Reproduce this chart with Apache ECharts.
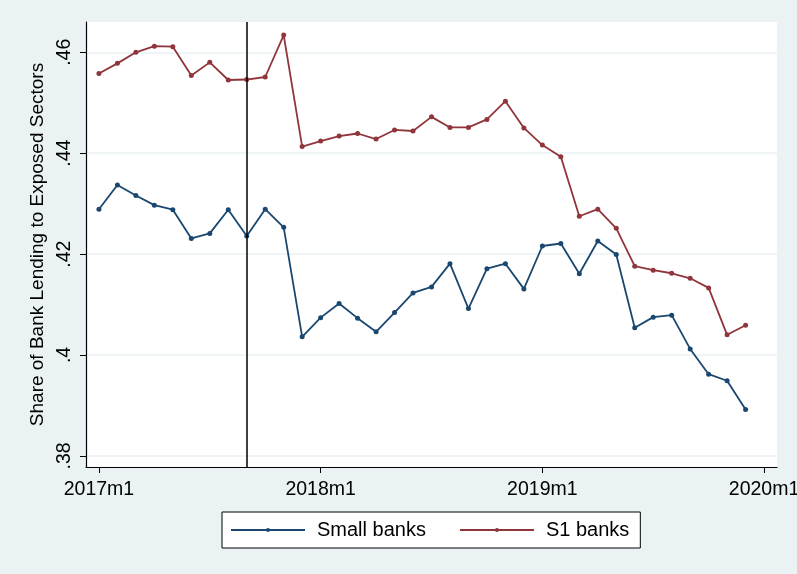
<!DOCTYPE html>
<html>
<head>
<meta charset="utf-8">
<script src="https://cdn.jsdelivr.net/npm/echarts@6/dist/echarts.min.js"></script>
<style>
  html, body { margin: 0; padding: 0; background: #eaf2f3; }
  #chart { width: 797px; height: 574px; }
</style>
</head>
<body>
<div id="chart"></div>
<script>
// Monthly observations, 2017m1 to 2019m12
const months = [
  '2017m1','2017m2','2017m3','2017m4','2017m5','2017m6','2017m7','2017m8','2017m9','2017m10','2017m11','2017m12',
  '2018m1','2018m2','2018m3','2018m4','2018m5','2018m6','2018m7','2018m8','2018m9','2018m10','2018m11','2018m12',
  '2019m1','2019m2','2019m3','2019m4','2019m5','2019m6','2019m7','2019m8','2019m9','2019m10','2019m11','2019m12'
];

// Share of bank lending to exposed sectors
const smallBanks = [
  0.4289, 0.4337, 0.4316, 0.4297, 0.4288, 0.4231, 0.4241, 0.4288, 0.4236, 0.4289, 0.4253, 0.4036,
  0.4074, 0.4102, 0.4073, 0.4046, 0.4084, 0.4123, 0.4135, 0.4181, 0.4092, 0.4171, 0.4181, 0.4131,
  0.4216, 0.4221, 0.4161, 0.4226, 0.4199, 0.4054, 0.4075, 0.4079, 0.4012, 0.3962, 0.3949, 0.3892
];
const s1Banks = [
  0.4558, 0.4578, 0.4600, 0.4612, 0.4611, 0.4554, 0.4580, 0.4545, 0.4546, 0.4551, 0.4634, 0.4413,
  0.4424, 0.4434, 0.4439, 0.4428, 0.4446, 0.4444, 0.4472, 0.4451, 0.4451, 0.4467, 0.4503, 0.4450,
  0.4416, 0.4393, 0.4275, 0.4289, 0.4251, 0.4176, 0.4168, 0.4162, 0.4152, 0.4133, 0.4040, 0.4059
];

// Axis ticks
const xTickMonths = [0, 12, 24, 36];
const xTickLabels = ['2017m1', '2018m1', '2019m1', '2020m1'];
const yTickValues = [0.38, 0.40, 0.42, 0.44, 0.46];
const yTickLabels = ['.38', '.4', '.42', '.44', '.46'];

// Reference month marked with a vertical line
const eventMonth = '2017m9';

const FONT = 'Liberation Sans, Arial, Helvetica, sans-serif';
const NAVY = '#1a476f';
const MAROON = '#90353b';

const toPoints = vals => vals.map((v, i) => [i, v]);

const chart = echarts.init(document.getElementById('chart'), null, { renderer: 'canvas' });

chart.setOption({
  backgroundColor: '#eaf2f3',
  animation: false,
  textStyle: { fontFamily: FONT },
  grid: {
    left: 86, right: 20, top: 22, bottom: 107,
    outerBoundsMode: 'none', containLabel: false,
    show: true, backgroundColor: '#ffffff', borderWidth: 0
  },
  xAxis: {
    type: 'value',
    min: -0.7, max: 36.7,
    axisLine: { show: true, onZero: false, lineStyle: { color: '#000', width: 1.2 } },
    axisTick: { show: true, length: 6, lineStyle: { color: '#000', width: 1 }, customValues: xTickMonths },
    axisLabel: {
      customValues: xTickMonths,
      color: '#000', fontSize: 19.5, margin: 13, fontFamily: FONT,
      hideOverlap: false,
      formatter: v => xTickLabels[xTickMonths.indexOf(Math.round(v))] || ''
    },
    splitLine: { show: false }
  },
  yAxis: {
    type: 'value',
    min: 0.3778, max: 0.466,
    name: 'Share of Bank Lending to Exposed Sectors',
    nameLocation: 'middle', nameRotate: 90, nameGap: 36,
    nameTextStyle: { color: '#000', fontSize: 19, fontFamily: FONT },
    axisLine: { show: true, onZero: false, lineStyle: { color: '#000', width: 1.2 } },
    axisTick: { show: true, length: 6, lineStyle: { color: '#000', width: 1 }, customValues: yTickValues },
    axisLabel: {
      customValues: yTickValues,
      rotate: 90, color: '#000', fontSize: 19.5, margin: 11, fontFamily: FONT,
      formatter: v => {
        const k = yTickValues.findIndex(t => Math.abs(t - v) < 1e-6);
        return k >= 0 ? yTickLabels[k] : '';
      }
    },
    splitLine: { show: true, lineStyle: { color: '#eaf2f3', width: 1.5 } }
  },
  legend: {
    left: 222, top: 512,
    orient: 'horizontal',
    backgroundColor: '#ffffff',
    borderColor: '#000', borderWidth: 1, borderRadius: 0,
    padding: [8, 11, 8, 8],
    itemWidth: 74, itemHeight: 5, itemGap: 33,
    textStyle: { color: '#000', fontSize: 20, fontFamily: FONT, padding: [0, 0, 0, 7] },
    data: ['Small banks', 'S1 banks']
  },
  series: [
    {
      name: 'Small banks',
      type: 'line',
      data: toPoints(smallBanks),
      symbol: 'circle', symbolSize: 5, showSymbol: true,
      lineStyle: { color: NAVY, width: 1.8 },
      itemStyle: { color: NAVY },
      markLine: {
        silent: true, symbol: ['none', 'none'],
        label: { show: false },
        lineStyle: { color: '#000', width: 1.5, type: 'solid' },
        data: [{ xAxis: months.indexOf(eventMonth) }]
      }
    },
    {
      name: 'S1 banks',
      type: 'line',
      data: toPoints(s1Banks),
      symbol: 'circle', symbolSize: 5, showSymbol: true,
      lineStyle: { color: MAROON, width: 1.8 },
      itemStyle: { color: MAROON }
    }
  ]
});
</script>
</body>
</html>
